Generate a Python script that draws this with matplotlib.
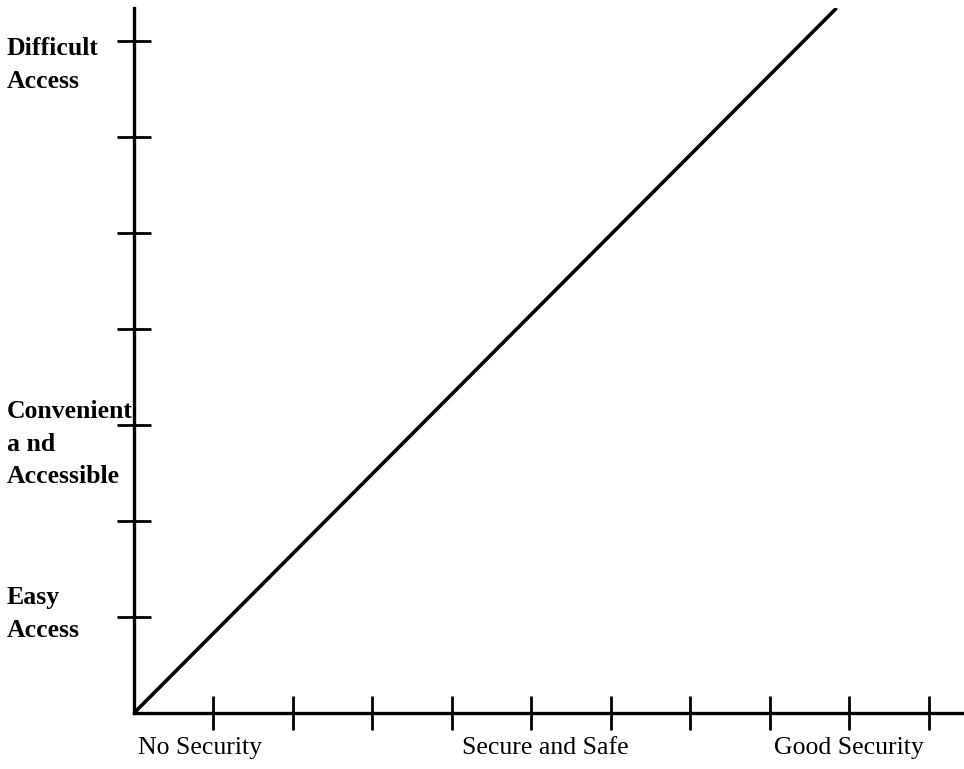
import matplotlib.pyplot as plt
import matplotlib.transforms as mtransforms

# security (x) vs. difficulty of access (y)
line_x = [0.0, 8.83]
line_y = [0.0, 7.33]

x_ticks = list(range(1, 11))
y_ticks = list(range(1, 8))

x_labels = ["No Security", "Secure and Safe", "Good Security"]
x_label_pos = [0.83, 5.18, 9.0]

y_labels = ["Difficult\nAccess", "Convenient\na nd\nAccessible", "Easy\nAccess"]
y_label_pos = [6.75, 2.80, 1.03]

plt.rcParams["font.family"] = ["Liberation Serif", "DejaVu Serif"]

fig = plt.figure(figsize=(9.64, 7.69), dpi=100)
ax = fig.add_axes([134 / 964, 56 / 769, 828 / 964, 705 / 769])

ax.plot(line_x, line_y, color="black", lw=2.6, solid_capstyle="round")

ax.set_xlim(0, 10.42)
ax.set_ylim(0, 7.34)
ax.spines["top"].set_visible(False)
ax.spines["right"].set_visible(False)
for s in ("left", "bottom"):
    ax.spines[s].set_linewidth(2.4)

ax.set_xticks(x_ticks)
ax.set_yticks(y_ticks)
ax.set_xticklabels([])
ax.set_yticklabels([])
ax.tick_params(direction="inout", length=24, width=2.0, color="black")

# axis captions
tx = mtransforms.blended_transform_factory(ax.transData, fig.transFigure)
for lab, xp in zip(x_labels, x_label_pos):
    ax.text(xp, 21 / 769, lab, transform=tx, ha="center", va="center",
            fontsize=18.5, clip_on=False)

ty = mtransforms.blended_transform_factory(fig.transFigure, ax.transData)
for lab, yp in zip(y_labels, y_label_pos):
    ax.text(7 / 964, yp, lab, transform=ty, ha="left", va="center",
            fontsize=18.5, fontweight="bold", linespacing=1.55, clip_on=False)

fig.savefig("out.png", dpi=100)
